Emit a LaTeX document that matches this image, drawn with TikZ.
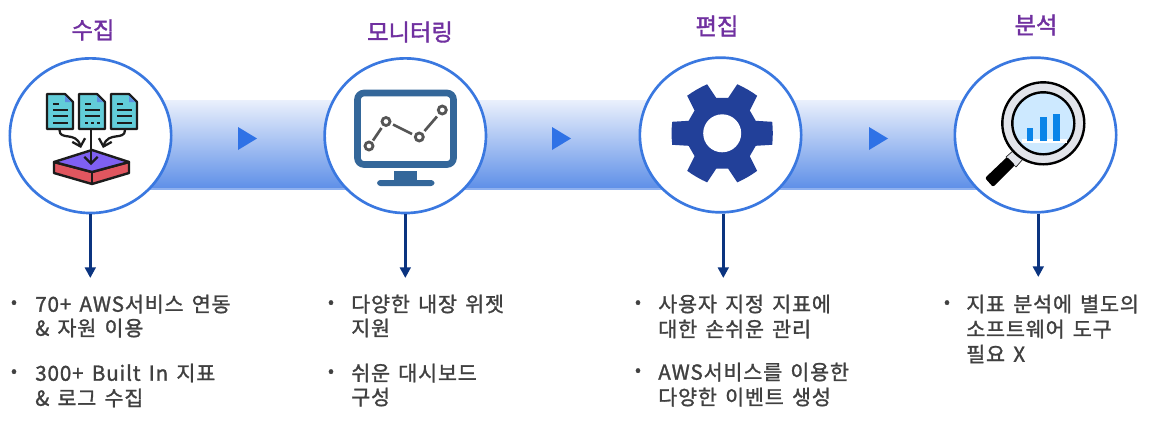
\documentclass[tikz,border=0pt]{standalone}
\usepackage{fontspec}
\setmainfont{Noto Sans CJK KR}
\newfontfamily\bodyfam{Noto Sans CJK KR}[FakeBold=1.3,LetterSpace=4,WordSpace=1.5]
\newfontfamily\titlefam{Noto Sans CJK KR}[FakeBold=1.5]
\usetikzlibrary{arrows.meta,shapes.geometric}
\definecolor{ringblue}{HTML}{3A78E0}
\definecolor{bandtop}{HTML}{EAF0FC}
\definecolor{bandbot}{HTML}{5F90E8}
\definecolor{bandedge}{HTML}{8FB1EF}
\definecolor{triblue}{HTML}{2F72E6}
\definecolor{navyline}{HTML}{0B3480}
\definecolor{titlepurple}{HTML}{7030A0}
\definecolor{bodygrey}{HTML}{404040}
\definecolor{doccyan}{HTML}{62CDD9}
\definecolor{inkblack}{HTML}{1C1C1C}
\definecolor{platviolet}{HTML}{7F60F2}
\definecolor{platred}{HTML}{E0565F}
\definecolor{monblue}{HTML}{34679A}
\definecolor{chartgrey}{HTML}{555555}
\definecolor{gearblue}{HTML}{224099}
\definecolor{lensblue}{HTML}{CDE9FF}
\definecolor{barblue}{HTML}{0A84E8}
\definecolor{ringgrey}{HTML}{E2E4EA}
\definecolor{foldblue}{HTML}{5B8FE0}
\tikzset{
  x=0.75pt,y=-0.75pt,
  ringnode/.style={ellipse,draw=ringblue,line width=2pt,fill=white,minimum width=121pt,minimum height=116pt,inner sep=0pt},
  titletext/.style={text=titlepurple,font=\fontsize{17.5}{20}\titlefam,inner sep=0pt},
  bodytext/.style={text=bodygrey,anchor=west,font=\fontsize{15.5}{18}\bodyfam,inner sep=0pt},
  bulletmark/.style={text=bodygrey,font=\fontsize{13}{14}\bodyfam,inner sep=0pt},
  dropline/.style={draw=navyline,line width=2.2pt,-{Triangle[length=8pt,width=8pt]}},
  playtri/.style={fill=triblue},
  docshape/.style={draw=inkblack,line width=1.6pt,fill=doccyan,line join=round},
  docline/.style={draw=inkblack,line width=1.5pt},
  flowarrow/.style={draw=inkblack,line width=1.7pt,-{Straight Barb[length=5pt,width=10pt,line width=1.7pt]}},
  platedge/.style={draw=inkblack,line width=1.8pt,line join=round},
  chartseg/.style={draw=chartgrey,line width=2pt},
  chartdot/.style={draw=chartgrey,line width=2.1pt,fill=white},
}
\begin{document}
\begin{tikzpicture}
\useasboundingbox (0,0) rectangle (1154,422);
\fill[white] (0,0) rectangle (1154,422);
% band
\shade[top color=bandtop,bottom color=bandbot] (120,100) rectangle (1000,188);
\fill[bandedge] (120,188) rectangle (1000,190);
% triangles
\fill[playtri] (238,127) -- (257,138.5) -- (238,150) -- cycle;
\fill[playtri] (552,127) -- (571,138.5) -- (552,150) -- cycle;
\fill[playtri] (869,127) -- (888,138.5) -- (869,150) -- cycle;
% circles
\node[ringnode] (c1) at (90.5,135.7) {};
\node[ringnode] (c2) at (405.3,135.7) {};
\node[ringnode] (c3) at (720.5,135) {};
\node[ringnode] (c4) at (1035.5,135) {};
% titles
\node[titletext] (t1) at (93,30) {수집};
\node[titletext] (t2) at (410,32) {모니터링};
\node[titletext] (t3) at (717,26) {편집};
\node[titletext] (t4) at (1036,25) {분석};
% droplines
\coordinate (e1) at (90.3,278);
\coordinate (e2) at (405.3,278);
\coordinate (e3) at (723.3,278);
\coordinate (e4) at (1038.3,277);
\draw[dropline] (c1.south -| e1) -- (e1);
\draw[dropline] (c2.south -| e2) -- (e2);
\draw[dropline] (c3.south -| e3) -- (e3);
\draw[dropline] (c4.south -| e4) -- (e4);
% icon 1: documents
\foreach \dx in {47,79,111}{
  \begin{scope}[shift={(\dx,94)}]
    \draw[docshape] (0,0) -- (18,0) -- (26,8) -- (26,35) -- (0,35) -- cycle;
    \fill[foldblue] (18,1.5) -- (24.5,8) -- (18,8) -- cycle;
    \draw[docline] (6,10) -- (12,10);
    \draw[docline] (6,16) -- (21,16);
    \draw[docline] (6,22) -- (21,22);
  \end{scope}
}
\draw[docline] (53,123) -- (68,123);
\draw[docline] (117,123) -- (132,123);
\draw[docline,dash pattern=on 2.5pt off 2pt] (85,123) -- (100,123);
% platform
\draw[platedge,fill=platred] (54,162) -- (54,173) -- (92,184) -- (129,173) -- (129,162) -- (92,172) -- cycle;
\draw[platedge,fill=platviolet] (54,162) -- (92,150) -- (129,162) -- (92,172) -- cycle;
\draw[platedge] (92,172) -- (92,184);
% icon 1 arrows
\draw[flowarrow] (91,129) -- (91,165);
\draw[flowarrow] (59.5,130) .. controls (59.5,141) and (76,131) .. (81,148);
\draw[flowarrow] (125,130) .. controls (125,141) and (108,131) .. (103,148);
% icon 2: monitor
\draw[draw=monblue,line width=5pt,rounded corners=5pt,fill=white] (357.5,93) rectangle (453.5,164.5);
\fill[monblue] (394.3,171) rectangle (416.7,180.5);
\fill[monblue,rounded corners=2.5pt] (377,180) rectangle (434.5,186);
\draw[chartseg] (373,140.5) -- (381.5,128);
\draw[chartseg] (393,124.5) -- (412,134);
\draw[chartseg] (424.5,131) -- (437,116.5);
\draw[chartdot] (369,146) circle[radius=4];
\draw[chartdot] (386,121.5) circle[radius=4];
\draw[chartdot] (419.3,137) circle[radius=4];
\draw[chartdot] (442.3,110) circle[radius=4];
% icon 3: gear
\begin{scope}[shift={(722.2,133.3)}]
  \fill[gearblue] (20.5:35.8) -- (39.5:35.8) -- (80.5:35.8) -- (99.5:35.8) -- (140.5:35.8) -- (159.5:35.8) -- (200.5:35.8) -- (219.5:35.8) -- (260.5:35.8) -- (279.5:35.8) -- (320.5:35.8) -- (339.5:35.8) -- cycle;
  \foreach \a in {0,60,120,180,240,300}{
    \fill[gearblue,rotate=\a] (25,-12.5) -- (33.5,-12.5) -- (50,-11.5) .. controls (50.8,-4) and (50.8,4) .. (50,11.5) -- (33.5,12.5) -- (25,12.5) -- cycle;
  }
  \fill[white] (0,0) circle[radius=19];
\end{scope}
% icon 4: magnifier
\fill[ringgrey,draw=inkblack,line width=.5pt] (1014,150) -- (1006,157) -- (1016,167) -- (1023,159) -- cycle;
\fill[black,rounded corners=1.5pt] (985,178) -- (993,187) -- (1015,165) -- (1007,157) -- cycle;
\draw[draw=black,line width=1.8pt,fill=ringgrey] (1043.3,123.3) circle[radius=41];
\draw[draw=black,line width=1.8pt,fill=lensblue] (1043.3,123.3) circle[radius=31];
\fill[white] (1021.7,139) rectangle (1067,142.5);
\fill[barblue] (1026.7,127.5) rectangle (1033.3,140.5);
\fill[barblue] (1040,117.3) rectangle (1046.7,140.5);
\fill[barblue] (1053.3,114) rectangle (1060,140.5);
% bullets and text, column 1
\node[bulletmark] (b11) at (14,304) {•};
\node[bodytext] (l11) at (35,304) {70+ AWS서비스 연동};
\node[bodytext] (l12) at (35,328) {\& 자원 이용};
\node[bulletmark] (b12) at (14,373) {•};
\node[bodytext] (l13) at (35,373) {300+ Built In 지표};
\node[bodytext] (l14) at (35,398) {\& 로그 수집};
% column 2
\node[bulletmark] (b21) at (331,304) {•};
\node[bodytext] (l21) at (351,304) {다양한 내장 위젯};
\node[bodytext] (l22) at (351,328) {지원};
\node[bulletmark] (b22) at (331,373) {•};
\node[bodytext] (l23) at (351,373) {쉬운 대시보드};
\node[bodytext] (l24) at (351,397) {구성};
% column 3
\node[bulletmark] (b31) at (638,304) {•};
\node[bodytext] (l31) at (658,304) {사용자 지정 지표에};
\node[bodytext] (l32) at (658,329) {대한 손쉬운 관리};
\node[bulletmark] (b32) at (638,372) {•};
\node[bodytext] (l33) at (658,372) {AWS서비스를 이용한};
\node[bodytext] (l34) at (658,397) {다양한 이벤트 생성};
% column 4
\node[bulletmark] (b41) at (947,304) {•};
\node[bodytext] (l41) at (966,304) {지표 분석에 별도의};
\node[bodytext] (l42) at (966,329) {소프트웨어 도구};
\node[bodytext] (l43) at (966,354) {필요 X};
\end{tikzpicture}
\end{document}
